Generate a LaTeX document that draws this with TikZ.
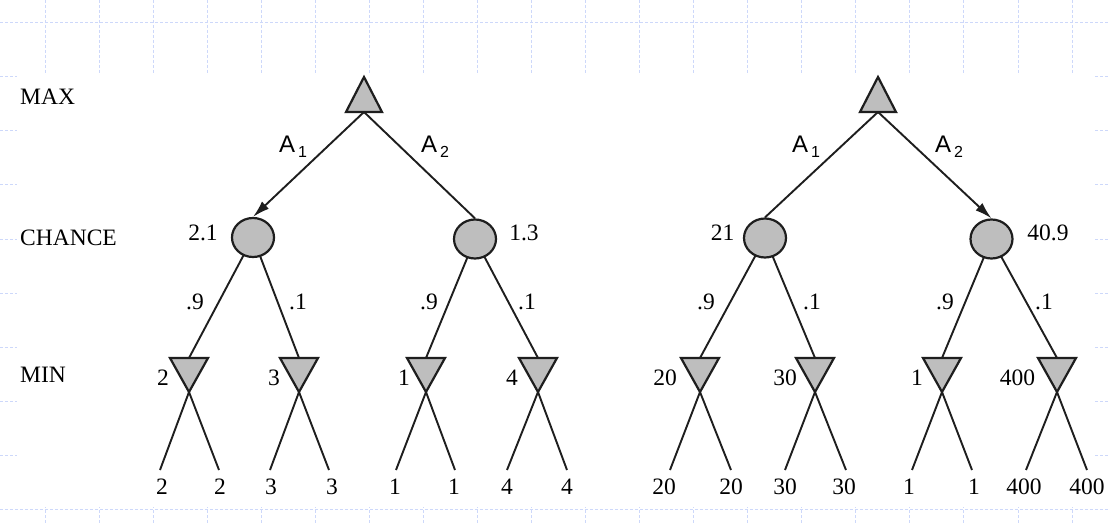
\documentclass[tikz,border=0pt]{standalone}
\usepackage{fontspec}
\setmainfont{Liberation Serif}
\newfontfamily\asans{Liberation Sans}
\usetikzlibrary{shapes.geometric,arrows.meta,calc}
\definecolor{gridblue}{RGB}{205,216,250}
\definecolor{nodegray}{RGB}{190,190,190}
\definecolor{ink}{RGB}{30,30,30}
\tikzset{
  gridline/.style={draw=gridblue,line width=0.8pt,dash pattern=on 3pt off 2pt},
  chancenode/.style={ellipse,draw=ink,fill=nodegray,line width=2.2pt,minimum width=42pt,minimum height=39pt,inner sep=0pt},
  trishape/.style={draw=ink,fill=nodegray,line width=2.2pt,line join=miter},
  edge/.style={draw=ink,line width=1.9pt},
  arrowedge/.style={edge,-{Latex[length=17pt,width=10pt]}},
  lab/.style={font=\fontsize{23.5}{23.5}\selectfont,inner sep=0pt},
  alab/.style={font=\asans\fontsize{24}{24}\selectfont,inner sep=0pt},
}
\newcommand{\asub}[2]{#1\hspace{3pt}\raisebox{-5pt}{\fontsize{16}{16}\selectfont #2}}
\begin{document}
\begin{tikzpicture}[x=1pt,y=-1pt]
\useasboundingbox (0,0) rectangle (1108,524);
% background grid
\foreach \k in {0,...,9} \draw[gridline] (0,22.7+54.05*\k) -- (1108,22.7+54.05*\k);
\foreach \k in {0,...,19} \draw[gridline] (45+54.05*\k,0) -- (45+54.05*\k,524);
\fill[white] (17,75.5) rectangle (1095,507);
% level labels
\node[lab,anchor=west] (lmax) at (20,97) {MAX};
\node[lab,anchor=west] (lchance) at (20,238) {CHANCE};
\node[lab,anchor=west] (lmin) at (20,375) {MIN};

% Left tree
\coordinate (Lmaxtop) at (364,77);
\coordinate (Lmax) at (364,112);
\coordinate (Lc1) at (253,237.5);
\coordinate (Lc2) at (475,239);
% Right tree
\coordinate (Rmaxtop) at (878,77);
\coordinate (Rmax) at (878,112);
\coordinate (Rc1) at (765,238);
\coordinate (Rc2) at (991.5,239);

% min triangles: name, x, leaf left, leaf right, chance parent
\foreach \n/\x/\a/\b/\p in {Lm1/189/160/219/Lc1, Lm2/299/270/329/Lc1, Lm3/426/396/455/Lc2, Lm4/538/507/567/Lc2,
                            Rm1/700/670/731/Rc1, Rm2/815/785/846/Rc1, Rm3/942/912/972/Rc2, Rm4/1057/1026/1087/Rc2}{
  \coordinate (\n) at (\x,358);
  \coordinate (\n apex) at (\x,392);
  \coordinate (\n la) at (\a,470);
  \coordinate (\n lb) at (\b,470);
  \draw[edge] (\p) -- (\n);
  \draw[edge] (\n apex) -- (\n la);
  \draw[edge] (\n apex) -- (\n lb);
  \path[trishape] (\x-19,358) -- (\x+19,358) -- (\n apex) -- cycle;
}
% chance nodes
\node[chancenode] (Lc1n) at (Lc1) {};
\node[chancenode] (Lc2n) at (Lc2) {};
\node[chancenode] (Rc1n) at (Rc1) {};
\node[chancenode] (Rc2n) at (Rc2) {};
% max triangles
\path[trishape] (Lmaxtop) -- ++(-18,35) -- ++(36,0) -- cycle;
\path[trishape] (Rmaxtop) -- ++(-18,35) -- ++(36,0) -- cycle;
% max -> chance edges
\draw[arrowedge] (Lmax) -- (Lc1n.north);
\draw[edge] (Lmax) -- (Lc2n.north);
\draw[edge] (Rmax) -- (Rc1n.north);
\draw[arrowedge] (Rmax) -- (Rc2n.north);

% action labels
\node[alab] (a1l) at (293,147) {\asub{A}{1}};
\node[alab] (a2l) at (435,147) {\asub{A}{2}};
\node[alab] (a1r) at (806,147) {\asub{A}{1}};
\node[alab] (a2r) at (949,147) {\asub{A}{2}};
% chance values
\node[lab] (v1) at (203,233) {2.1};
\node[lab] (v2) at (524,233) {1.3};
\node[lab] (v3) at (722.5,233) {21};
\node[lab] (v4) at (1048,233) {40.9};
% probabilities
\foreach \x/\t [count=\i] in {195/.9,298/.1,429/.9,527/.1,706/.9,812/.1,945/.9,1044/.1}
  \node[lab] (p\i) at (\x,302) {\t};
% min values
\foreach \x/\t [count=\i] in {163/2,274/3,404/1,512/4,665/20,785/30,917/1,1017.5/400}
  \node[lab] (mv\i) at (\x,378) {\t};
% leaf values
\foreach \x/\t [count=\i] in {162/2,220/2,271/3,332/3,395/1,454/1,507/4,567/4,664/20,731/20,785/30,844/30,909/1,974/1,1024/400,1087/400}
  \node[lab] (lv\i) at (\x,487) {\t};
\end{tikzpicture}
\end{document}
